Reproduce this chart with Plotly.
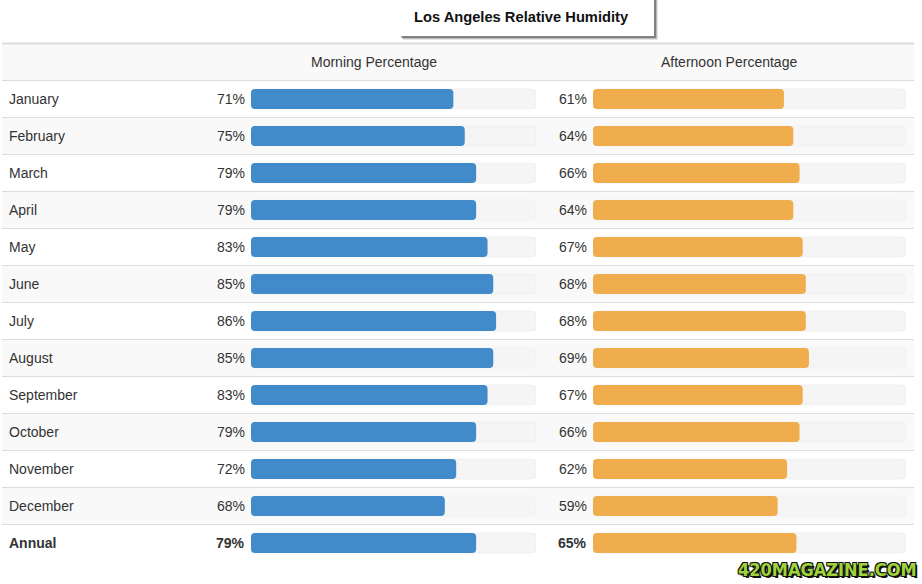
import plotly.graph_objects as go

months = ["January", "February", "March", "April", "May", "June", "July",
          "August", "September", "October", "November", "December", "Annual"]
morning = [71, 75, 79, 79, 83, 85, 86, 85, 83, 79, 72, 68, 79]
afternoon = [61, 64, 66, 64, 67, 68, 68, 69, 67, 66, 62, 59, 65]
title_text = "Los Angeles Relative Humidity"
header_morning = "Morning Percentage"
header_afternoon = "Afternoon Percentage"
watermark = "420MAGAZINE.COM"

W, H = 922, 584
ROW0, PITCH = 99, 37
FONT = "Arial, Liberation Sans, Helvetica, sans-serif"
TEXT = "#333333"
BLUE = "#428bca"
ORANGE = "#f0ad4e"
TRACK = "#f5f5f5"

def px(x):
    return x / W

def py(y):
    return 1 - y / H

n = len(months)
idx = list(range(n))
y_top = -ROW0 / PITCH
y_bot = (H - ROW0) / PITCH

fig = go.Figure()
bw = 20 / PITCH
for xa, vals, col in (("x", morning, BLUE), ("x2", afternoon, ORANGE)):
    fig.add_trace(go.Bar(orientation="h", y=idx, x=[100] * n, base=0, xaxis=xa, yaxis="y",
                         width=bw, marker=dict(color=TRACK, cornerradius=4,
                                               line=dict(color="#ebebeb", width=0.6)),
                         hoverinfo="skip", showlegend=False))
    fig.add_trace(go.Bar(orientation="h", y=idx, x=vals, base=0, xaxis=xa, yaxis="y",
                         width=bw, marker=dict(color=col, cornerradius=4, line=dict(width=0)),
                         hoverinfo="skip", showlegend=False))

shapes = []
shapes.append(dict(type="rect", xref="paper", yref="y", x0=px(2), x1=px(914), y0=-1.5, y1=-0.5,
                   fillcolor="#f9f9f9", line=dict(width=0), layer="below"))
for i in idx:
    if i % 2 == 1:
        shapes.append(dict(type="rect", xref="paper", yref="y", x0=px(2), x1=px(914),
                           y0=i - 0.5, y1=i + 0.5, fillcolor="#f9f9f9", line=dict(width=0),
                           layer="below"))
shapes.append(dict(type="line", xref="paper", yref="y", x0=px(2), x1=px(914), y0=-1.5, y1=-1.5,
                   line=dict(color="#dddddd", width=2), layer="below"))
for i in range(-1, n - 1):
    shapes.append(dict(type="line", xref="paper", yref="y", x0=px(2), x1=px(914),
                       y0=i + 0.5, y1=i + 0.5, line=dict(color="#dddddd", width=1), layer="below"))

for k, op in ((4, 0.10), (3, 0.18), (2, 0.30)):
    shapes.append(dict(type="rect", xref="paper", yref="paper",
                       x0=px(400 + k - 1), x1=px(654 + k), y0=py(36 + k), y1=py(0),
                       fillcolor="rgba(0,0,0,%.2f)" % op, line=dict(width=0)))
shapes.append(dict(type="rect", xref="paper", yref="paper", x0=px(400), x1=px(654),
                   y0=py(36), y1=py(0), fillcolor="white", line=dict(width=0)))

ann = []
ann.append(dict(text="<b>" + title_text + "</b>", xref="paper", yref="paper", x=px(521), y=py(17),
                showarrow=False, font=dict(family=FONT, size=14.7, color="#111111"),
                xanchor="center", yanchor="middle"))
ann.append(dict(text=header_morning, xref="paper", yref="y", x=px(374), y=-1, showarrow=False,
                font=dict(family=FONT, size=14, color=TEXT), xanchor="center", yanchor="middle"))
ann.append(dict(text=header_afternoon, xref="paper", yref="y", x=px(729), y=-1, showarrow=False,
                font=dict(family=FONT, size=14, color=TEXT), xanchor="center", yanchor="middle"))
for i, m in enumerate(months):
    bold = (i == n - 1)
    wrap = (lambda s: "<b>" + s + "</b>") if bold else (lambda s: s)
    ann.append(dict(text=wrap(m), xref="paper", yref="y", x=px(7), y=i, showarrow=False,
                    font=dict(family=FONT, size=14, color=TEXT), xanchor="left", yanchor="middle"))
    ann.append(dict(text=wrap(f"{morning[i]}%"), xref="paper", yref="y", x=px(246.5), y=i,
                    showarrow=False, font=dict(family=FONT, size=14, color=TEXT),
                    xanchor="right", yanchor="middle"))
    ann.append(dict(text=wrap(f"{afternoon[i]}%"), xref="paper", yref="y", x=px(588.5), y=i,
                    showarrow=False, font=dict(family=FONT, size=14, color=TEXT),
                    xanchor="right", yanchor="middle"))
ann.append(dict(text="<b>" + watermark + "</b>", xref="paper", yref="paper", x=px(919), y=py(569),
                showarrow=False, xanchor="right", yanchor="middle",
                font=dict(family="Liberation Sans Narrow, DejaVu Sans Condensed, Arial Narrow, sans-serif",
                          size=18, color="#9fd33a",
                          shadow="1px 1px 0 #111, -1px -1px 0 #111, 1px -1px 0 #111, -1px 1px 0 #111, 2px 2px 0 #111")))

fig.update_layout(
    width=W, height=H, margin=dict(l=0, r=0, t=0, b=0),
    paper_bgcolor="white", plot_bgcolor="rgba(0,0,0,0)",
    barmode="overlay", showlegend=False,
    xaxis=dict(domain=[px(251), px(536)], range=[0, 100], visible=False, fixedrange=True, anchor="y"),
    xaxis2=dict(domain=[px(593), px(906)], range=[0, 100], visible=False, fixedrange=True, anchor="y"),
    yaxis=dict(domain=[0, 1], range=[y_bot, y_top], visible=False, fixedrange=True),
    shapes=shapes, annotations=ann,
)

fig.write_html("out.html", config={"displayModeBar": False},
               post_script="document.body.style.margin='0';document.body.style.overflow='hidden';")
